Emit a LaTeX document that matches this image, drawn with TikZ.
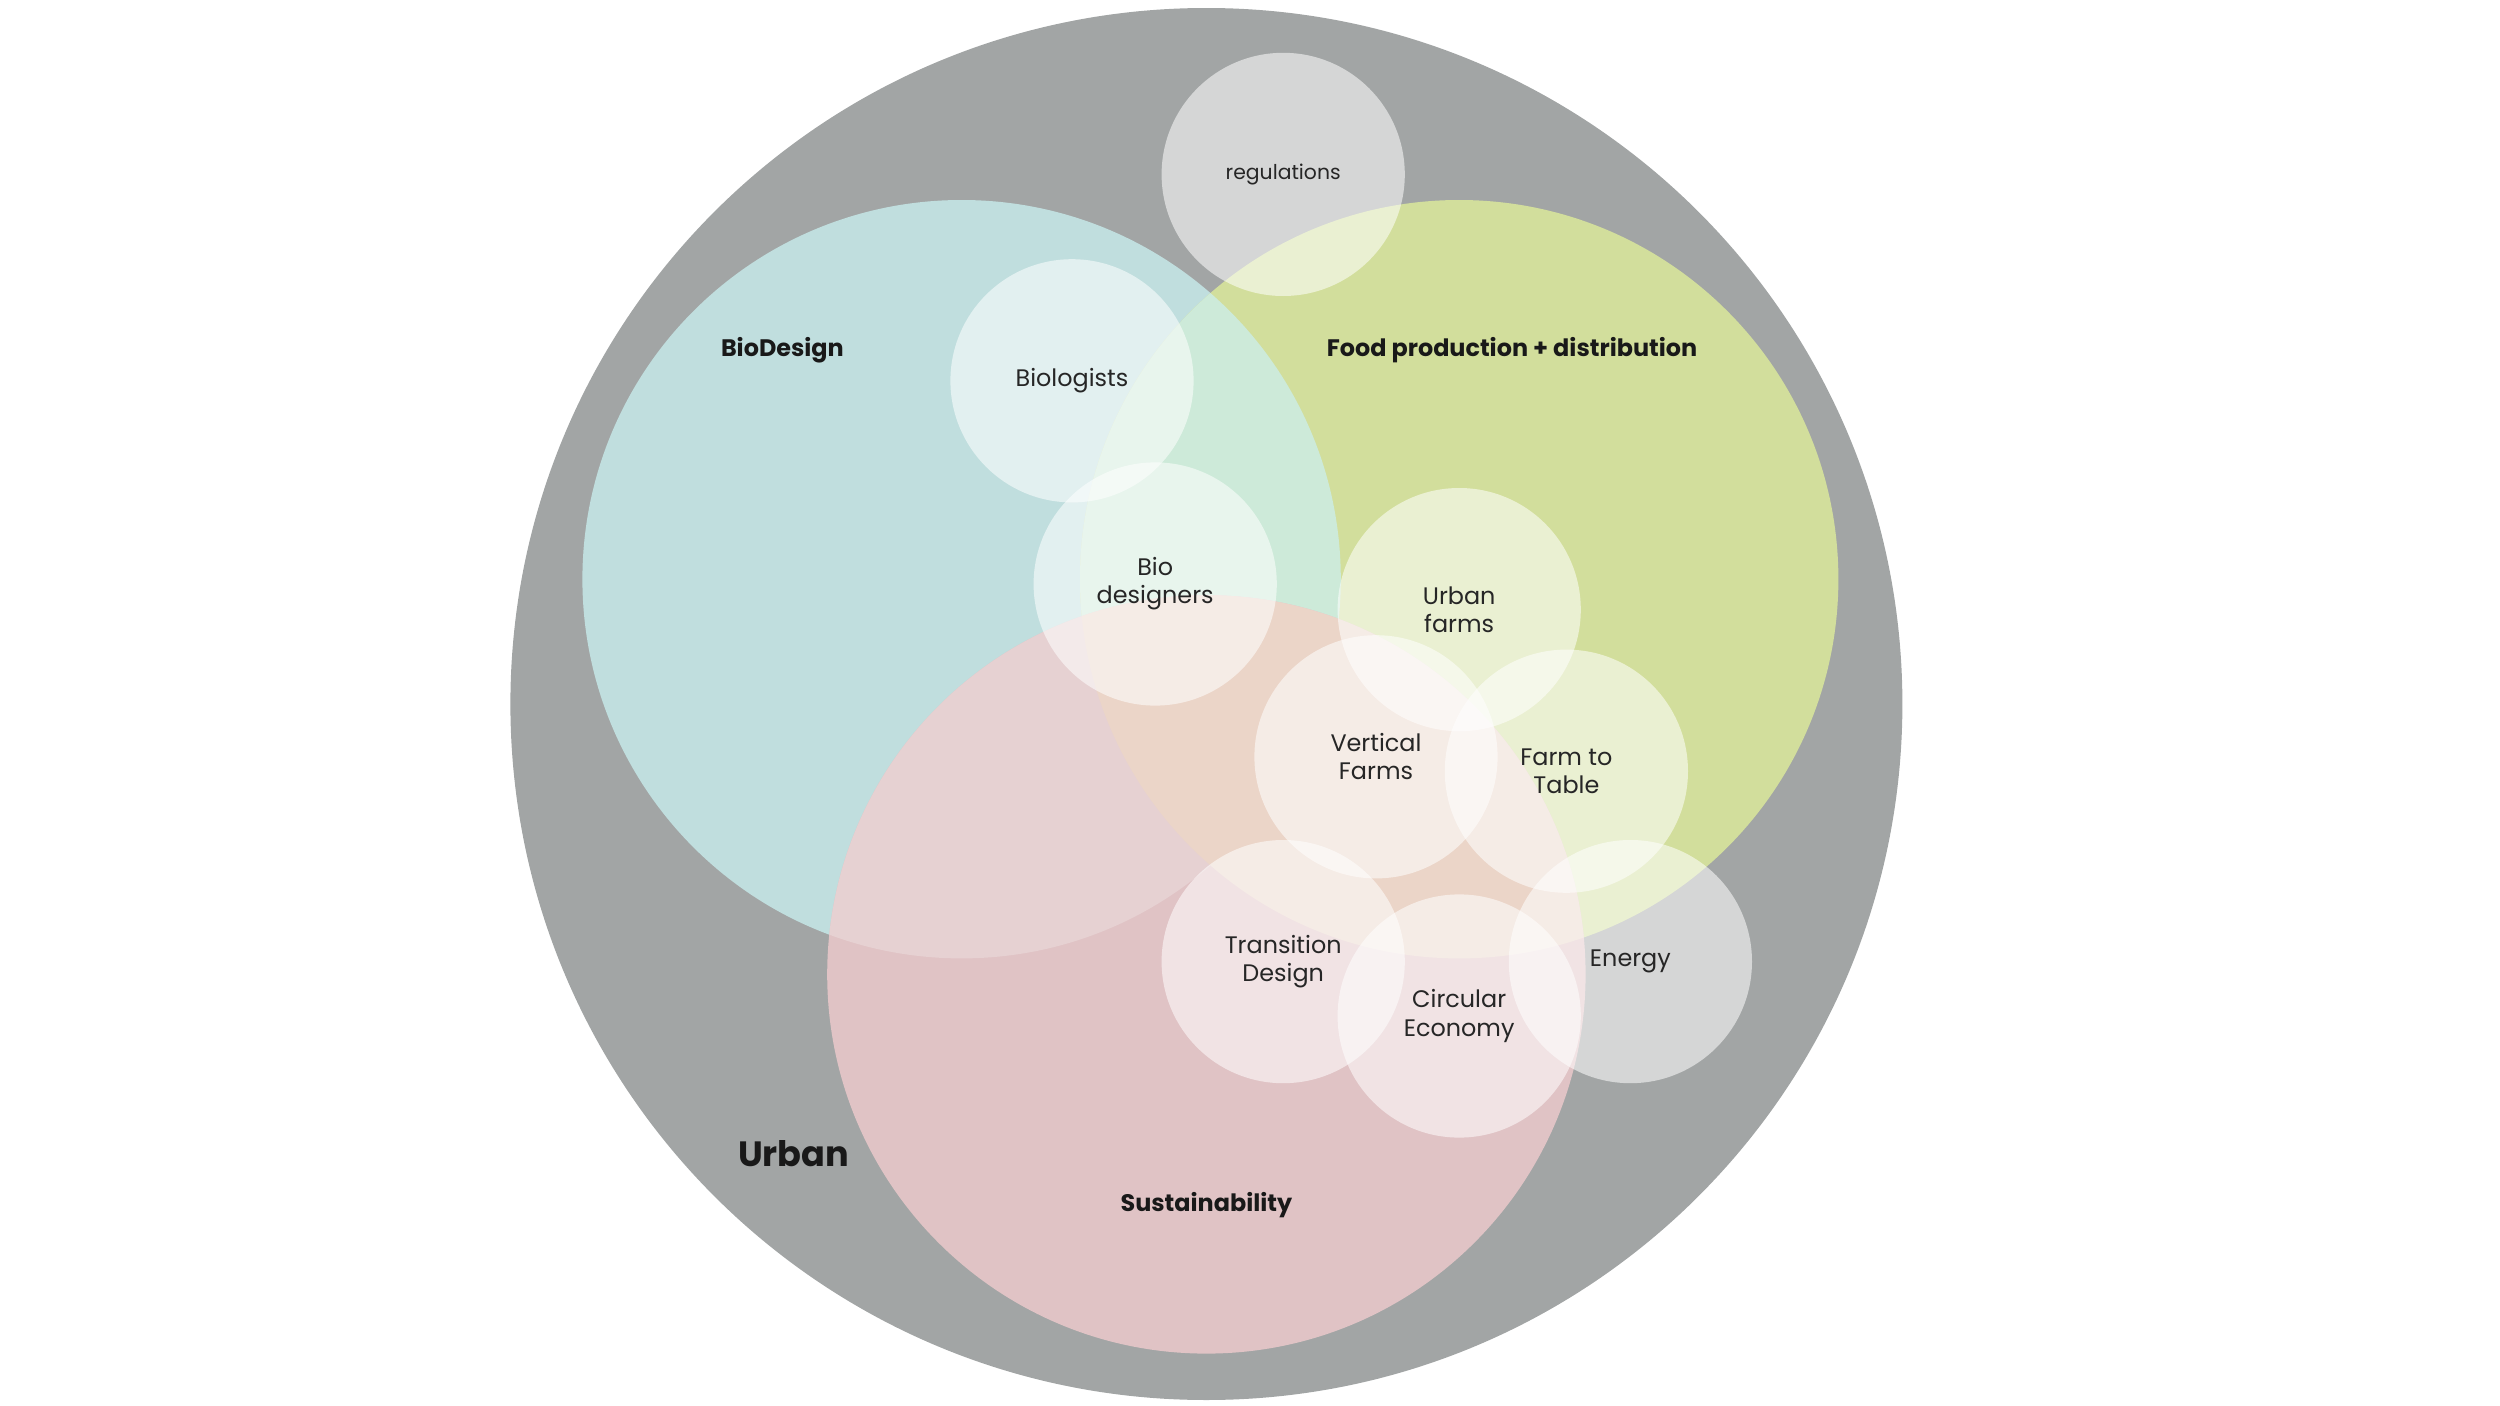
\documentclass[tikz,border=0pt]{standalone}
\usepackage{fontspec}
\setmainfont{Poppins}
\begin{document}
\begin{tikzpicture}[x=0.016cm,y=-0.016cm,
 small/.style={circle,minimum size={152*0.016cm},inner sep=0pt,fill=white,fill opacity=0.55,text opacity=1,align=center,font=\fontsize{6.8}{8}\selectfont,text=black!85},
 lbl/.style={font=\fontsize{6.8}{8}\selectfont\bfseries,text=black!90}]
\useasboundingbox (0,0) rectangle (1562.5,878.75);
\definecolor{urb}{HTML}{A2A5A5}
\definecolor{bio}{HTML}{C0DEDE}
\definecolor{food}{HTML}{D2DE9C}
\definecolor{sus}{HTML}{E0C3C5}
\definecolor{bf}{HTML}{CDEAD9}
\definecolor{bs}{HTML}{E6D1D2}
\definecolor{fs}{HTML}{EBD5C8}
\node[circle,fill=urb,minimum size={870*0.016cm},inner sep=0pt] (urban) at (754,440) {};
\node[circle,fill=bio,minimum size={474*0.016cm},inner sep=0pt] (bio) at (601,362) {};
\node[circle,fill=food,minimum size={474*0.016cm},inner sep=0pt] (food) at (912,362) {};
\begin{scope}
\clip (601,362) circle (237);
\fill[bf] (912,362) circle (237);
\end{scope}
\node[circle,fill=sus,minimum size={474*0.016cm},inner sep=0pt] (sus) at (754,609) {};
\begin{scope}
\clip (754,609) circle (237);
\fill[bs] (601,362) circle (237);
\fill[fs] (912,362) circle (237);
\end{scope}
\node[lbl] (tbio) at (489,219) {BioDesign};
\node[lbl] (tfood) at (945,219) {Food production + distribution};
\node[lbl] (tsus) at (754,753) {Sustainability};
\node[font=\fontsize{10}{12}\selectfont\bfseries,text=black!90] (turb) at (496,721) {Urban};
\node[small,font=\fontsize{5.8}{7}\selectfont] (reg) at (802,109) {regulations};
\node[small] (biol) at (670,238) {Biologists};
\node[small] (biod) at (722,365) {Bio\\designers};
\node[small] (uf) at (912,381) {Urban\\farms};
\node[small] (vf) at (860,473) {Vertical\\Farms};
\node[small] (ft) at (979,482) {Farm to\\Table};
\node[small] (td) at (802,601) {Transition\\Design};
\node[small] (ce) at (912,635) {Circular\\Economy};
\node[small] (en) at (1019,601) {Energy};
\end{tikzpicture}
\end{document}
